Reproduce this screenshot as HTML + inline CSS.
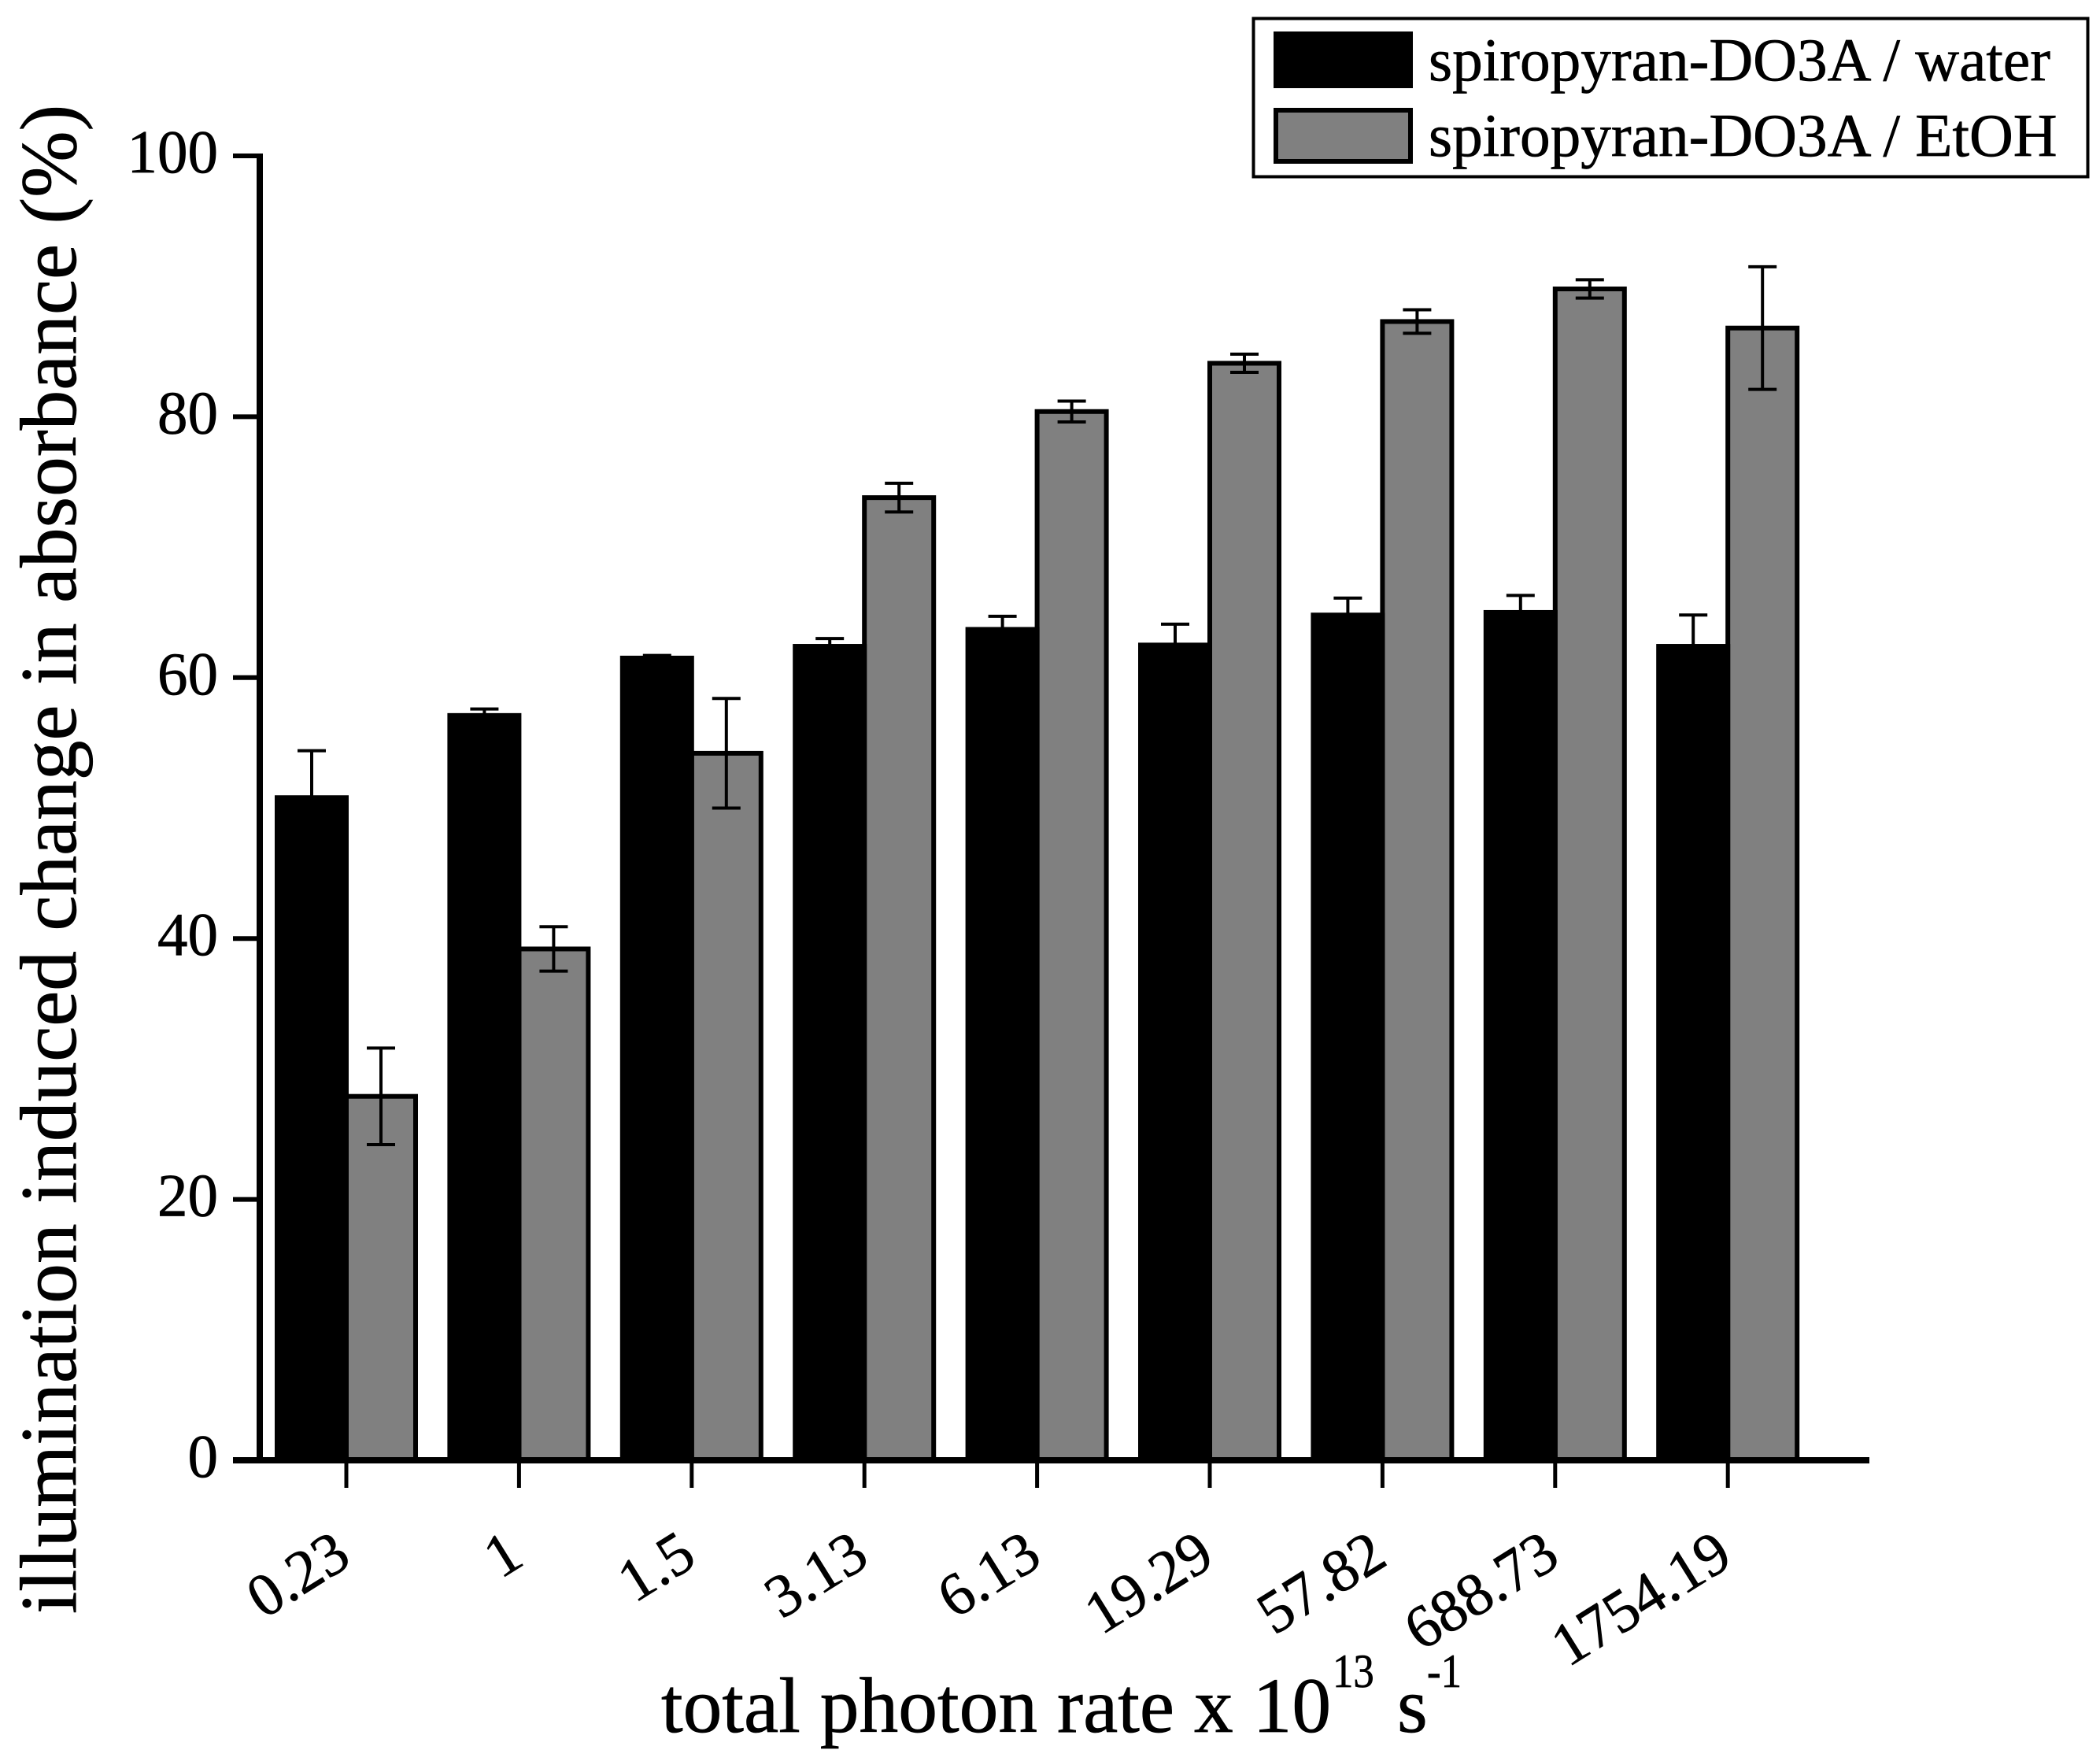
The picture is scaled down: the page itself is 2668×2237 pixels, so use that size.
<!DOCTYPE html>
<html>
<head>
<meta charset="utf-8">
<title>Illumination induced change in absorbance</title>
<style>
html,body{margin:0;padding:0;background:#fff;}
svg{display:block;}
text{font-family:"Liberation Serif",serif;fill:#000;stroke:#000;stroke-width:0.7px;}
</style>
</head>
<body>
<svg id="chart" xmlns="http://www.w3.org/2000/svg" width="2668" height="2237" viewBox="0 0 2668 2237">
  <rect x="0" y="0" width="2668" height="2237" fill="#fff"/>
  <g id="bars"></g>
  <g id="errors"></g>
  <g id="axes"></g>
  <text transform="translate(96,2050) rotate(-90)" font-size="101.4">illumination induced change in absorbance (%)</text>
  <text x="840" y="2200" font-size="99.5">total photon rate x 10</text>
  <text transform="translate(1693,2143) scale(0.88,1)" font-size="60">13</text>
  <text x="1775" y="2200" font-size="99.5">s</text>
  <text transform="translate(1813,2143) scale(0.88,1)" font-size="60">-1</text>
  <g>
    <rect x="1592.5" y="23.5" width="1060" height="201" fill="#fff" stroke="#000" stroke-width="4"/>
    <rect x="1618" y="40" width="177" height="72" fill="#000"/>
    <text x="1815" y="102" font-size="77.3">spiropyran-DO3A / water</text>
    <rect x="1621" y="140" width="171" height="65" fill="#808080" stroke="#000" stroke-width="6"/>
    <text x="1815" y="198" font-size="77.3">spiropyran-DO3A / EtOH</text>
  </g>
</svg>
<script>
const categories = ["0.23", "1", "1.5", "3.13", "6.13", "19.29", "57.82", "688.73", "1754.19"];
const waterValues = [50.8, 57.1, 61.5, 62.4, 63.7, 62.5, 64.8, 65.0, 62.4];
const waterErrors = [3.6, 0.5, 0.2, 0.6, 1.0, 1.6, 1.3, 1.3, 2.4];
const etohValues = [27.9, 39.2, 54.2, 73.8, 80.4, 84.1, 87.3, 89.8, 86.8];
const etohErrors = [3.7, 1.7, 4.2, 1.1, 0.8, 0.7, 0.9, 0.7, 4.7];
const yTickLabels = [0, 20, 40, 60, 80, 100];

const SVG_NS = "http://www.w3.org/2000/svg";
const PLOT_Y0 = 1855, PLOT_Y100 = 198;
const BAND_X0 = 440, BAND_STEP = 219.4;
const BAR_W = 88, BAR_STROKE = 6, CAP_W = 36;

function yScale(v) { return PLOT_Y0 + (PLOT_Y100 - PLOT_Y0) * v / 100; }
function xScale(i) { return BAND_X0 + BAND_STEP * i; }

function make(tag, attrs, parent) {
  const el = document.createElementNS(SVG_NS, tag);
  for (const k in attrs) el.setAttribute(k, attrs[k]);
  parent.appendChild(el);
  return el;
}

const barsG = document.getElementById("bars");
const errorsG = document.getElementById("errors");
const axesG = document.getElementById("axes");

function drawBar(x, value, fill, name) {
  const top = yScale(value);
  const el = make("rect", { x: x, y: top, width: BAR_W, height: PLOT_Y0 - top, fill: fill, stroke: "#000", "stroke-width": BAR_STROKE }, barsG);
  
  
}

function drawError(cx, value, err, name) {
  const hi = yScale(value + err), lo = yScale(value - err);
  const g = make("g", { stroke: "#000", "stroke-width": 4, fill: "none" }, errorsG);
  
  
  make("line", { x1: cx, x2: cx, y1: hi, y2: lo }, g);
  make("line", { x1: cx - CAP_W / 2, x2: cx + CAP_W / 2, y1: hi, y2: hi }, g);
  make("line", { x1: cx - CAP_W / 2, x2: cx + CAP_W / 2, y1: lo, y2: lo }, g);
}

categories.forEach(function (cat, i) {
  const t = xScale(i);
  drawBar(t, etohValues[i], "#808080", "bar-etoh-" + cat);
  drawBar(t - BAR_W, waterValues[i], "#000", "bar-water-" + cat);
});
categories.forEach(function (cat, i) {
  const t = xScale(i);
  drawError(t - BAR_W / 2, waterValues[i], waterErrors[i], "error-water-" + cat);
  drawError(t + BAR_W / 2, etohValues[i], etohErrors[i], "error-etoh-" + cat);
});

const yAxisLine = make("line", { x1: 330, x2: 330, y1: PLOT_Y100 - 3, y2: PLOT_Y0 + 4, stroke: "#000", "stroke-width": 8 }, axesG);



const xAxisLine = make("line", { x1: 296, x2: 2375, y1: PLOT_Y0, y2: PLOT_Y0, stroke: "#000", "stroke-width": 8 }, axesG);



yTickLabels.forEach(function (v) {
  const y = yScale(v);
  if (v !== 0) {
    const tick = make("line", { x1: 296, x2: 330, y1: y, y2: y, stroke: "#000", "stroke-width": 6 }, axesG);
    
    
  }
  const label = make("text", { x: 277, y: y + 21, "text-anchor": "end", "font-size": 77 }, axesG);
  label.textContent = String(v);
  
  
});

categories.forEach(function (cat, i) {
  const t = xScale(i);
  const tick = make("line", { x1: t, x2: t, y1: PLOT_Y0 + 4, y2: 1890, stroke: "#000", "stroke-width": 5 }, axesG);
  
  
  const ax = t + 9, ay = 1986;
  const label = make("text", { x: ax, y: ay, "text-anchor": "end", "font-size": 77, transform: "rotate(-32 " + ax + " " + ay + ")" }, axesG);
  label.textContent = cat;
  
  
});
</script>
</body>
</html>
